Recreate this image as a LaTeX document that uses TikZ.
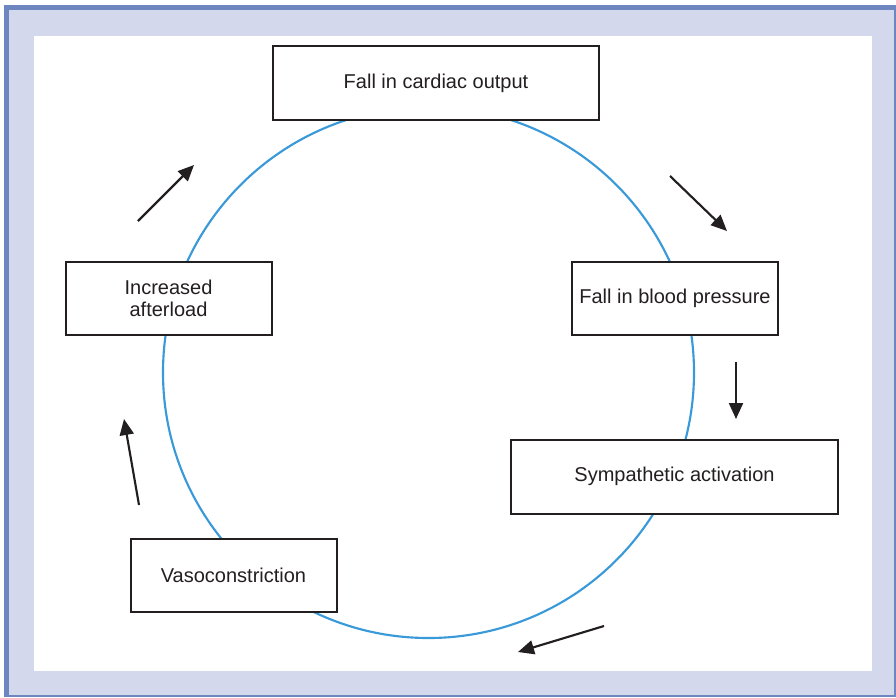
\documentclass[tikz,border=0pt]{standalone}
\usepackage{fontspec}
\setmainfont{Liberation Sans}
\usetikzlibrary{arrows.meta, positioning}

\definecolor{frameblue}{HTML}{6E86C0}
\definecolor{framefill}{HTML}{D3D8EC}
\definecolor{cycleblue}{HTML}{3A9AD9}
\definecolor{inkgray}{HTML}{231F20}

\begin{document}
\begin{tikzpicture}[x=0.75pt, y=-0.75pt,
    box/.style = {draw=inkgray, line width=1.5pt, fill=white, inner sep=0pt,
                  align=center, text=inkgray, font=\fontsize{15}{16.5}\selectfont},
    widebox/.style = {box, minimum width=245pt, minimum height=55.5pt},
    narrowbox/.style = {box, minimum width=154.5pt, minimum height=54.75pt},
    flow/.style = {-{Triangle[length=12pt, width=10.5pt]}, line width=1.6pt, draw=inkgray},
    cycle/.style = {draw=cycleblue, line width=1.6pt}]

    \useasboundingbox (0,0) rectangle (896,697);

    % frame
    \fill[white] (0,0) rectangle (896,697);
    \fill[framefill] (4,5) rectangle (896,697);
    \fill[frameblue] (4,5) rectangle (9,697);
    \fill[frameblue] (4,5) rectangle (896,10);
    \fill[frameblue] (894,5) rectangle (896,697);
    \fill[frameblue] (4,695) rectangle (896,697);
    \fill[white] (34,36) rectangle (872,671);

    % the cycle
    \draw[cycle] (428.5,372.5) circle[radius=265.5];

    \node (output) [widebox] at (436,83) {Fall in cardiac output};
    \node (pressure) [narrowbox] at (675,298) {Fall in blood pressure};
    \node (sympathetic) [widebox] at (674.5,476.5) {Sympathetic activation};
    \node (vaso) [narrowbox] at (233.5,575) {Vasoconstriction};
    \node (afterload) [narrowbox] at (168.5,298) {Increased\\afterload};

    % arrows round the cycle
    \coordinate (s1) at (670,176);  \coordinate (e1) at (727,231);
    \coordinate (s2) at (736,362);  \coordinate (e2) at (736,419);
    \coordinate (s3) at (604,626);  \coordinate (e3) at (518,652);
    \coordinate (s4) at (139,505);  \coordinate (e4) at (124,419);
    \coordinate (s5) at (138,221);  \coordinate (e5) at (194,165);

    \draw[flow] (s1) -- (e1);
    \draw[flow] (s2) -- (e2);
    \draw[flow] (s3) -- (e3);
    \draw[flow] (s4) -- (e4);
    \draw[flow] (s5) -- (e5);

\end{tikzpicture}
\end{document}
